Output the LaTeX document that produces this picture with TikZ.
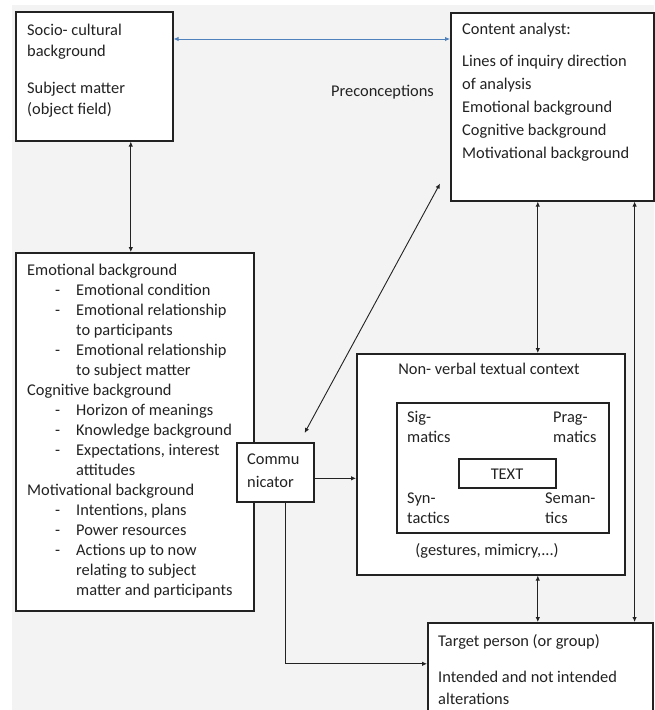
\documentclass[tikz,border=0pt]{standalone}
\usepackage{fontspec}
\setmainfont{Carlito}
\usetikzlibrary{positioning,calc,arrows.meta}

\definecolor{officeblue}{HTML}{4F81BD}
\definecolor{inkgray}{HTML}{222222}
\definecolor{paper}{HTML}{F3F3F3}

\newcommand{\itm}[1]{\hspace*{28pt}\makebox[21pt][l]{-}#1}
\newcommand{\cnt}[1]{\hspace*{49pt}#1}

\tikzset{
  box/.style={draw=inkgray, line width=1.6pt, fill=white, anchor=north west, inner sep=0pt},
  txt/.style={anchor=base west, align=left, inner sep=0pt, text=inkgray},
  link/.style={draw=inkgray, line width=0.9pt},
}

\begin{document}
\begin{tikzpicture}[x=1pt,y=-1pt,>={Latex[length=5pt,width=4.5pt]},
                    font=\fontsize{16.4}{20}\selectfont]
    \useasboundingbox (0,0) rectangle (655,710);
    \fill[paper] (12,5) rectangle (654,710);

    % boxes
    \node [box, minimum width=157, minimum height=129](socio) at (15,11){};
    \node [box, minimum width=203, minimum height=188](analyst) at (450,12){};
    \node [box, minimum width=238, minimum height=358](emot) at (15,252){};
    \node [box, minimum width=77, minimum height=59](comm) at (236,442){};
    \node [box, minimum width=268, minimum height=221](nonverbal) at (356,353){};
    \node [box, minimum width=212, minimum height=130](inner) at (396,402){};
    \node [box, minimum width=97, minimum height=29](textbox) at (458,458){};
    \node [box, minimum width=225, minimum height=100](target) at (427,622){};

    % texts (multi-line ones sit on their last line)
    \node [txt, font=\fontsize{16.4}{20.5}\selectfont](sociotxt) at (27,114)
        {Socio- cultural\\ background\\[17pt] Subject matter\\ (object field)};
    \node [txt, font=\fontsize{16.4}{22.8}\selectfont](analysttxt) at (462,158)
        {Content analyst:\\[10pt] Lines of inquiry direction\\ of analysis\\
         Emotional background\\ Cognitive background\\ Motivational background};
    \node [txt](emottxt) at (27,595)
        {Emotional background\\ \itm{Emotional condition}\\ \itm{Emotional relationship}\\
         \cnt{to participants}\\ \itm{Emotional relationship}\\ \cnt{to subject matter}\\
         Cognitive background\\ \itm{Horizon of meanings}\\ \itm{Knowledge background}\\
         \itm{Expectations, interest}\\ \cnt{attitudes}\\ Motivational background\\
         \itm{Intentions, plans}\\ \itm{Power resources}\\ \itm{Actions up to now}\\
         \cnt{relating to subject}\\ \cnt{matter and participants}};
    \node [txt, font=\fontsize{16.4}{23}\selectfont](commtxt) at (247,487){Commu\\ nicator};
    \node [txt, anchor=base](nonverbaltxt) at (489,374){Non- verbal textual context};
    \node [txt](sigtxt) at (407,442){Sig-\\ matics};
    \node [txt](pragtxt) at (553,442){Prag-\\ matics};
    \node [txt, anchor=base](texttxt) at (507,479){TEXT};
    \node [txt](syntxt) at (407,523){Syn-\\ tactics};
    \node [txt](semtxt) at (545,523){Seman-\\ tics};
    \node [txt, anchor=base](gesttxt) at (487,555){(gestures, mimicry,...)};
    \node [txt, font=\fontsize{16.4}{22}\selectfont](targettxt) at (438,704)
        {Target person (or group)\\[14pt] Intended and not intended\\ alterations};
    \node [txt, anchor=base east](precon) at (434,96){Preconceptions};

    % connectors
    \draw[link, draw=officeblue, <->] ([yshift=-28pt]socio.north east) -- ([yshift=-27pt]analyst.north west);
    \draw[link, <->] ([xshift=-4pt]emot.north |- socio.south) -- ([xshift=-4pt]emot.north);
    \draw[link, <->] ([xshift=-10pt,yshift=18pt]analyst.south west) -- ([xshift=-10pt,yshift=9pt]comm.north east);
    \draw[link, ->] ([yshift=-6pt]comm.east) -- ([yshift=-6pt]comm.east -| nonverbal.west);
    \draw[link, <->] ([xshift=-14.5pt]analyst.south) -- ([xshift=-14.5pt]analyst.south |- nonverbal.north);
    \draw[link, <->] ([xshift=-20pt]analyst.south east) -- ([xshift=-20pt]analyst.south east |- target.north);
    \draw[link, <->] ([xshift=47pt]nonverbal.south) -- ([xshift=47pt]nonverbal.south |- target.north);
    \draw[link, ->] ([xshift=10pt]comm.south) |- ([yshift=9pt]target.west);
\end{tikzpicture}
\end{document}
